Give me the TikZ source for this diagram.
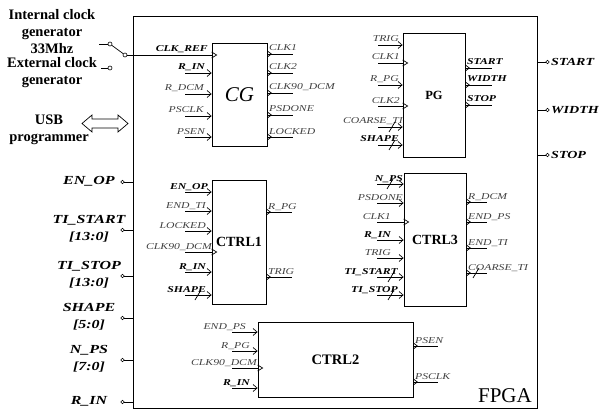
\documentclass[tikz,border=0pt]{standalone}
\usepackage{fontspec}
\setmainfont{Liberation Serif}
\newfontfamily\sigfont[FakeStretch=1.3]{Liberation Serif}
\usetikzlibrary{arrows.meta}

\begin{document}
\begin{tikzpicture}[x=1pt,y=-1pt,
    blk/.style={draw,line width=0.8pt,inner sep=0pt},
    wire/.style={line width=0.7pt},
    sigin/.style={wire,-{Straight Barb[length=4pt,width=7pt,line width=0.7pt]}},
    pinwire/.style={wire,-{Circle[open,length=4pt,width=4pt,line width=0.6pt]}},
    contact/.style={circle,draw,line width=0.6pt,inner sep=0pt,minimum size=4},
    lsig/.style={font=\sigfont\fontsize{9}{10}\selectfont\itshape,text=black!75,inner sep=0pt},
    bsig/.style={font=\sigfont\fontsize{9}{10}\selectfont\bfseries\itshape,inner sep=0pt},
    pinname/.style={font=\sigfont\fontsize{12.3}{17}\selectfont\bfseries\itshape,align=center,inner sep=0pt},
    rpinname/.style={font=\sigfont\fontsize{10.8}{12}\selectfont\bfseries\itshape,inner sep=0pt},
    note/.style={font=\fontsize{14.5}{17}\selectfont\bfseries,align=center,inner sep=0pt}]

    \useasboundingbox (0,0) rectangle (603,412);

    % FPGA and its blocks
    \node[blk,line width=1pt,minimum width=404,minimum height=391] (fpga) at (335,212.5) {};
    \node[anchor=base east,inner sep=0pt,font=\fontsize{21}{21}\selectfont] (fpganame) at (532,402) {FPGA};
    \node[blk,minimum width=55,minimum height=103,font=\itshape\fontsize{21}{21}\selectfont] (cg) at (239.5,94.5) {CG};
    \node[blk,minimum width=62,minimum height=124,font=\bfseries\fontsize{12.5}{13}\selectfont] (pg) at (434,95) {PG};
    \node[blk,minimum width=54,minimum height=124,font=\bfseries\fontsize{14}{14}\selectfont] (ctrl1) at (239,242) {CTRL1};
    \node[blk,minimum width=155,minimum height=75,font=\bfseries\fontsize{14.5}{15}\selectfont] (ctrl2) at (335.5,359.5) {CTRL2};
    \node[blk,minimum width=62,minimum height=133,font=\bfseries\fontsize{14}{14}\selectfont] (ctrl3) at (435,239.5) {CTRL3};

    % clock sources and switch
    \node[note] (intclk) at (52,31.5) {Internal clock\\generator\\33Mhz};
    \node[note] (extclk) at (52,73) {External clock\\generator};
    \node[contact] (swa) at (110,44) {};
    \node[contact] (swb) at (110,68) {};
    \node[contact] (swc) at (125,55) {};
    \draw[wire] (swa.west) -- ++(-9,0);
    \draw[wire] (swb.west) -- ++(-7,0);
    \draw[wire] (swa) -- (swc);
    \draw[wire] (swc) -- (cg.west|-swc);
    \draw[wire] (cg.west|-0,52) -- ++(5,3) -- ++(-5,3);
    \node[bsig,anchor=base east] (clkref) at (208,52) {CLK\_REF};

    % USB
    \node[note] (usb) at (49,130) {USB\\programmer};
    \draw[wire] (82,123.5) -- (92,115) -- (92,119) -- (118,119) -- (118,115) -- (128,123.5)
        -- (118,132) -- (118,128) -- (92,128) -- (92,132) -- cycle;

    % outside pins
    \foreach \y/\t in {182/EN\_OP,230/{TI\_START\\{[13:0]}},276/{TI\_STOP\\{[13:0]}},
        318/{SHAPE\\{[5:0]}},360/{N\_PS\\{[7:0]}},402/R\_IN}
    {
        \draw[pinwire] (fpga.west|-0,\y) -- ++(-12,0) coordinate (lp\y);
        \node[pinname] (lpn\y) at (89,\y-1) {\t};
    }
    \foreach \y/\t in {62/START,110/WIDTH,155/STOP}
    {
        \draw[pinwire] (fpga.east|-0,\y) -- ++(12,0) coordinate (rp\y);
        \node[rpinname,anchor=west] (rpn\y) at (551,\y) {\t};
    }

    % plain inputs
    \foreach \b/\x/\y/\lx/\s/\t in {cg/185/73/205/bsig/R\_IN,cg/185/94/204/lsig/R\_DCM,
        cg/185/116/204/lsig/PSCLK,cg/185/137/205/lsig/PSEN,
        pg/378/45/399/lsig/TRIG,pg/378/85/399/lsig/R\_PG,
        pg/378/127/403/lsig/COARSE\_TI,pg/378/145/399/bsig/SHAPE,
        ctrl1/185/192/208/bsig/EN\_OP,ctrl1/185/211/206/lsig/END\_TI,
        ctrl1/185/231/206/lsig/LOCKED,ctrl1/185/272/206/bsig/R\_IN,ctrl1/185/295/206/bsig/SHAPE,
        ctrl3/377/184/403/bsig/N\_PS,ctrl3/377/203/403/lsig/PSDONE,ctrl3/377/240/391/bsig/R\_IN,
        ctrl3/377/258/391/lsig/TRIG,ctrl3/377/277/398/bsig/TI\_START,ctrl3/377/295/398/bsig/TI\_STOP,
        ctrl2/232/332/246/lsig/END\_PS,ctrl2/232/351/250/lsig/R\_PG,ctrl2/232/388/250/bsig/R\_IN}
    {
        \draw[sigin] (\x,\y) -- (\b.west|-0,\y);
        \node[\s,anchor=base east] (in\b\y) at (\lx,\y-3) {\t};
    }

    % clock inputs
    \foreach \b/\x/\y/\lx/\t in {pg/378/63/400/CLK1,pg/378/106/400/CLK2,
        ctrl1/185/252/212/CLK90\_DCM,ctrl3/377/222/391/CLK1,ctrl2/232/368/257/CLK90\_DCM}
    {
        \draw[wire] (\x,\y) -- (\b.west|-0,\y);
        \draw[wire] (\b.west|-0,\y-3) -- ++(5,3) -- ++(-5,3);
        \node[lsig,anchor=base east] (ck\b\y) at (\lx,\y-3) {\t};
    }

    % outputs
    \foreach \b/\l/\y/\s/\t in {cg/26/54/lsig/CLK1,cg/26/73/lsig/CLK2,cg/26/93/lsig/CLK90\_DCM,
        cg/26/115/lsig/PSDONE,cg/26/137/lsig/LOCKED,
        pg/27/68/bsig/START,pg/27/85/bsig/WIDTH,pg/27/105/bsig/STOP,
        ctrl1/26/212/lsig/R\_PG,ctrl1/26/277/lsig/TRIG,
        ctrl3/21/202/lsig/R\_DCM,ctrl3/21/222/lsig/END\_PS,ctrl3/21/248/lsig/END\_TI,
        ctrl3/21/273/lsig/COARSE\_TI,
        ctrl2/25/346/lsig/PSEN,ctrl2/25/382/lsig/PSCLK}
    {
        \draw[wire] (\b.east|-0,\y-3) -- ++(4,3) -- ++(-4,3);
        \draw[wire] (\b.east|-0,\y) -- ++(\l,0) coordinate (out\b\y);
        \node[\s,anchor=base west] (on\b\y) at ([xshift=1.5pt]\b.east|-0,\y-3) {\t};
    }

    % bus marks
    \foreach \x/\y in {392/127,392/145,198/295,390/184,391/277,391/295,476/273}
        \draw[wire] (\x-3,\y+5) -- (\x+3,\y-5);
\end{tikzpicture}
\end{document}
